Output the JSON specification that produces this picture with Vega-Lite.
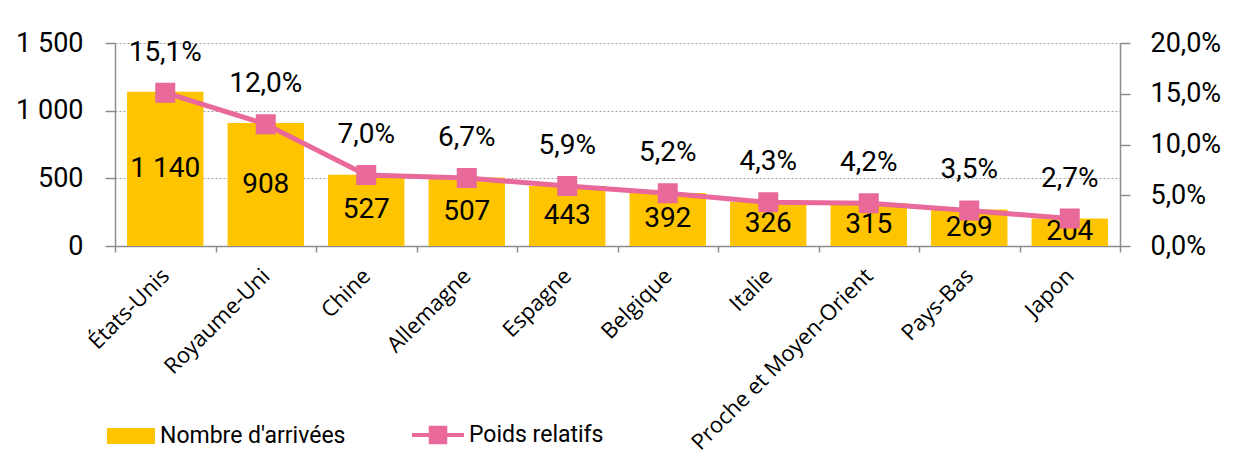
{
  "$schema": "https://vega.github.io/schema/vega-lite/v6.json",
  "width": 1005,
  "height": 203,
  "autosize": "none",
  "padding": {"left": 115, "top": 43, "right": 127, "bottom": 211},
  "config": {
    "locale": {"number": {"decimal": ",", "thousands": "\u00a0", "grouping": [3], "currency": ["", " €"]}},
    "font": "Roboto",
    "view": {"stroke": null},
    "axis": {"domainColor": "#8c8c8c", "tickColor": "#8c8c8c", "labelColor": "#000000", "domainWidth": 1.5, "tickWidth": 1.5}
  },
  "data": {
    "values": [
      {"pays": "États-Unis", "n": 1140, "pct": 0.151},
      {"pays": "Royaume-Uni", "n": 908, "pct": 0.120},
      {"pays": "Chine", "n": 527, "pct": 0.070},
      {"pays": "Allemagne", "n": 507, "pct": 0.067},
      {"pays": "Espagne", "n": 443, "pct": 0.059},
      {"pays": "Belgique", "n": 392, "pct": 0.052},
      {"pays": "Italie", "n": 326, "pct": 0.043},
      {"pays": "Proche et Moyen-Orient", "n": 315, "pct": 0.042},
      {"pays": "Pays-Bas", "n": 269, "pct": 0.035},
      {"pays": "Japon", "n": 204, "pct": 0.027}
    ]
  },
  "encoding": {
    "x": {
      "field": "pays", "type": "nominal", "sort": null,
      "scale": {"paddingInner": 0, "paddingOuter": 0},
      "axis": {"title": null, "labelAngle": -45, "labelAlign": "right", "labelBaseline": "middle", "tickBand": "extent", "tickSize": 6, "labelPadding": 20, "labelFont": "Open Sans", "labelFontSize": 22, "labelLimit": 0, "grid": false}
    }
  },
  "layer": [
    {
      "mark": {"type": "bar", "width": {"band": 0.76}},
      "encoding": {
        "y": {"field": "n", "type": "quantitative", "scale": {"domain": [0, 1500], "nice": false},
          "axis": {"title": null, "orient": "left", "values": [0, 500, 1000, 1500], "format": ",.0f", "grid": true, "gridDash": [2, 2], "gridColor": "#a0a0a0", "gridWidth": 1, "tickSize": 10, "labelPadding": 22, "labelFontSize": 27}},
        "color": {"datum": "Nombre d'arrivées", "type": "nominal", "scale": {"range": ["#FFC400"]},
          "legend": {"title": null, "orient": "none", "legendX": -8, "legendY": 369, "padding": 0, "symbolType": "M-1,-0.33H1V0.33H-1Z", "symbolSize": 2304, "symbolStrokeWidth": 0, "labelFontSize": 23, "labelLimit": 0, "labelOffset": 5, "labelColor": "#000000"}}
      }
    },
    {
      "mark": {"type": "text", "fontSize": 28, "baseline": "middle", "color": "#000000"},
      "encoding": {
        "y": {"field": "n", "type": "quantitative", "scale": {"domain": [0, 3000], "nice": false}, "axis": null},
        "text": {"field": "n", "type": "quantitative", "format": ",.0f"}
      }
    },
    {
      "mark": {"type": "line", "strokeWidth": 5, "point": {"shape": "square", "size": 324, "filled": true, "color": "#E8699A"}},
      "encoding": {
        "y": {"field": "pct", "type": "quantitative", "scale": {"domain": [0, 0.2], "nice": false},
          "axis": {"title": null, "orient": "right", "values": [0, 0.05, 0.1, 0.15, 0.2], "format": ".1%", "grid": false, "tickSize": 10, "labelPadding": 20, "labelFontSize": 27}},
        "stroke": {"datum": "Poids relatifs", "type": "nominal", "scale": {"range": ["#E8699A"]},
          "legend": {"title": null, "orient": "none", "legendX": 295, "legendY": 364, "padding": 0, "symbolType": "M-1,0H1M-0.28,-0.28H0.28V0.28H-0.28Z", "symbolSize": 2704, "symbolStrokeWidth": 4, "symbolFillColor": "#E8699A", "labelFontSize": 23, "labelLimit": 0, "labelOffset": 3, "labelColor": "#000000"}}
      }
    },
    {
      "mark": {"type": "text", "fontSize": 28, "baseline": "middle", "dy": -40, "color": "#000000"},
      "encoding": {
        "y": {"field": "pct", "type": "quantitative", "scale": {"domain": [0, 0.2], "nice": false}, "axis": null},
        "text": {"field": "pct", "type": "quantitative", "format": ".1%"}
      }
    }
  ],
  "resolve": {"scale": {"y": "independent"}}
}
